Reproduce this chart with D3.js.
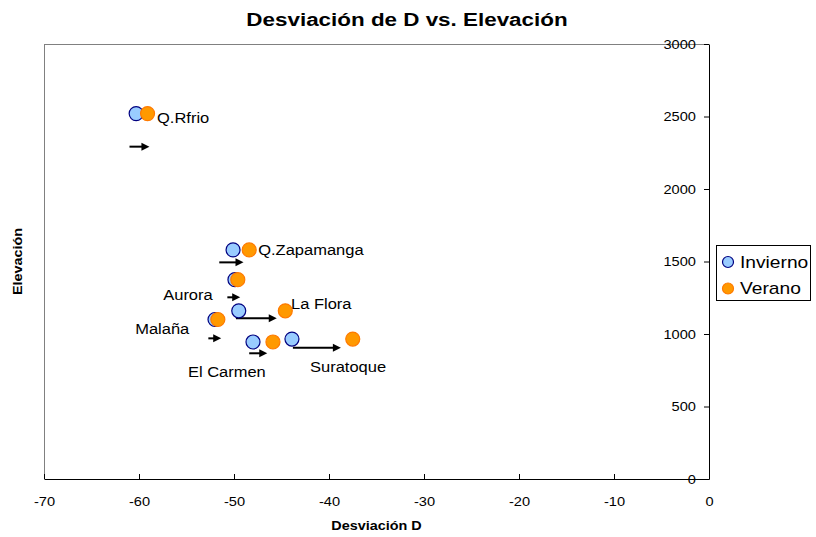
<!DOCTYPE html>
<html><head><meta charset="utf-8">
<script src="https://cdn.jsdelivr.net/npm/d3@7"></script>
<style>body{margin:0;background:#fff}svg{display:block}text{font-family:"Liberation Sans",Arial,sans-serif}</style>
</head><body>
<svg id="c" width="816" height="537"></svg>
<script>
// ---- data ----
const sites = ["Q.Rfrio","Q.Zapamanga","Aurora","Malaña","La Flora","El Carmen","Suratoque"];
const elevacion = [2520, 1580, 1375, 1100, 1160, 945, 965];
const invierno = [-60.3, -50.1, -49.9, -52.0, -49.5, -48.0, -43.9];
const verano   = [-59.1, -48.4, -49.6, -51.7, -44.6, -45.9, -37.5];
// annotation arrows (data units): start x, end x, elevation
const arrowX1 = [-61.0, -51.55, -50.7, -52.7, -49.8, -48.4, -43.8];
const arrowX2 = [-58.9, -49.0, -49.35, -51.35, -45.5, -46.5, -38.75];
const arrowY  = [2292, 1494, 1253, 970, 1108, 867, 906];
// label anchors (data units): left x, elevation of text middle
const labelX = [-58.1, -47.45, -57.45, -60.4, -44.0, -54.85, -42.0];
const labelY = [2490, 1580, 1270, 1034, 1207, 738, 772];
const xTicks = [-70,-60,-50,-40,-30,-20,-10,0];
const yTicks = [0,500,1000,1500,2000,2500,3000];
const seriesNames = ["Invierno","Verano"];

const S = 1.17; // horizontal text stretch
const svg = d3.select("#c");
const L=44, R=709, T=44, B=479;
const x = d3.scaleLinear().domain([-70,0]).range([L,R]);
const y = d3.scaleLinear().domain([0,3000]).range([B,T]);

function stretch(sel, s){ sel.each(function(){
  const t=d3.select(this); const tx=+t.attr("x")||0, ty=+t.attr("y")||0;
  t.attr("x",0).attr("y",0).attr("transform",`translate(${tx},${ty}) scale(${s},1)`);
});}

// plot border (top / left gray)
svg.append("line").attr("x1",L).attr("x2",R).attr("y1",T+0.5).attr("y2",T+0.5).attr("stroke","#808080");
svg.append("line").attr("x1",L+0.5).attr("x2",L+0.5).attr("y1",T).attr("y2",B).attr("stroke","#808080");

// axes
const fmt = d => String(d);
const gx = svg.append("g").attr("transform",`translate(0,${B})`)
  .call(d3.axisBottom(x).tickValues(xTicks).tickSizeInner(-5).tickSizeOuter(0).tickPadding(18).tickFormat(fmt));
gx.select(".domain").attr("stroke","#000");
gx.selectAll(".tick line").attr("stroke","#000");
gx.selectAll("text").attr("font-size",12.5).attr("fill","#000").attr("dy","0.71em").call(stretch,S);

const gy = svg.append("g").attr("transform",`translate(${R},0)`)
  .call(d3.axisLeft(y).tickValues(yTicks).tickSizeInner(5).tickSizeOuter(0).tickPadding(8).tickFormat(fmt));
gy.select(".domain").attr("stroke","#000");
gy.selectAll(".tick line").attr("stroke","#000");
gy.selectAll("text").attr("font-size",12.5).attr("fill","#000").call(stretch,S);
svg.selectAll(".tick text").style("font-family","Liberation Sans, Arial, sans-serif");

// arrows
const ag = svg.append("g");
sites.forEach((s,i)=>{
  const x1=x(arrowX1[i]), x2=x(arrowX2[i]), yy=y(arrowY[i]);
  ag.append("line").attr("x1",x1).attr("x2",x2-6).attr("y1",yy).attr("y2",yy).attr("stroke","#000").attr("stroke-width",2);
  ag.append("path").attr("d",`M${x2},${yy}L${x2-8},${yy-4}L${x2-8},${yy+4}Z`).attr("fill","#000");
});

// points
const pts = sites.map((s,i)=>({s,i,e:elevacion[i],inv:invierno[i],ver:verano[i]}));
svg.append("g").selectAll("circle").data(pts).join("circle")
  .attr("cx",d=>x(d.inv)).attr("cy",d=>y(d.e)).attr("r",7)
  .attr("fill","#99ccff").attr("stroke","#000080").attr("stroke-width",1.2);
svg.append("g").selectAll("circle").data(pts).join("circle")
  .attr("cx",d=>x(d.ver)).attr("cy",d=>y(d.e)).attr("r",7)
  .attr("fill","#ff9900").attr("stroke","#ff7a00").attr("stroke-width",1.2);

// labels
svg.append("g").selectAll("text").data(sites).join("text")
  .attr("x",(d,i)=>x(labelX[i])).attr("y",(d,i)=>y(labelY[i])).attr("dy","0.36em")
  .attr("font-size",15).attr("fill","#000").text(d=>d).call(stretch,1.1);

// titles
svg.append("text").attr("x",407).attr("y",26).attr("text-anchor","middle").attr("font-size",19).attr("font-weight","bold")
  .text("Desviación de D vs. Elevación").call(stretch,1.18);
svg.append("text").attr("x",(L+R)/2).attr("y",530).attr("text-anchor","middle").attr("font-size",12).attr("font-weight","bold")
  .text("Desviación D").call(stretch,1.2);
svg.append("text").attr("text-anchor","middle").attr("font-size",12).attr("font-weight","bold")
  .attr("transform",`translate(22,${(T+B)/2}) rotate(-90) scale(1.2,1)`).text("Elevación");

// legend
const lg = svg.append("g");
lg.append("rect").attr("x",716.5).attr("y",245.5).attr("width",94).attr("height",55).attr("fill","#fff").attr("stroke","#000");
const lfill=["#99ccff","#ff9900"], lstroke=["#000080","#ff7a00"];
seriesNames.forEach((n,i)=>{
  const cy=262+i*26.5;
  lg.append("circle").attr("cx",728).attr("cy",cy).attr("r",5.5).attr("fill",lfill[i]).attr("stroke",lstroke[i]).attr("stroke-width",1.2);
  lg.append("text").attr("x",740).attr("y",cy).attr("dy","0.36em").attr("font-size",16).text(n).call(stretch,1.2);
});
</script>
</body></html>
